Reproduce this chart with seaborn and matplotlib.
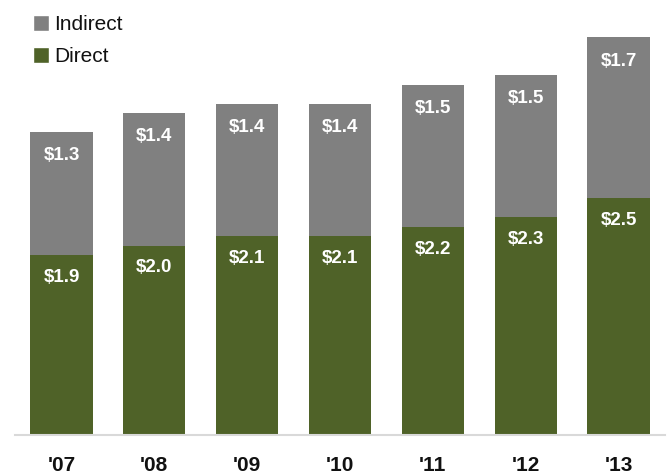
import matplotlib
matplotlib.use("Agg")
import matplotlib.pyplot as plt
import seaborn as sns
import pandas as pd
from matplotlib.patches import Patch

years = ["'07", "'08", "'09", "'10", "'11", "'12", "'13"]
direct = [1.9, 2.0, 2.1, 2.1, 2.2, 2.3, 2.5]
indirect = [1.3, 1.4, 1.4, 1.4, 1.5, 1.5, 1.7]

GREEN = "#4f6228"
GRAY = "#808080"

sns.set_theme(style="white")
plt.rcParams["font.family"] = ["Liberation Sans", "DejaVu Sans"]

df = pd.DataFrame({"year": years, "direct": direct, "indirect": indirect})
df["total"] = df["direct"] + df["indirect"]

fig = plt.figure(figsize=(6.68, 4.75), dpi=100)
ax = fig.add_axes([0.0, 0.084, 1.0, 0.857])

# stacked bars: full height in gray, direct portion over it in green
sns.barplot(data=df, x="year", y="total", color=GRAY, width=0.67,
            saturation=1, linewidth=0, ax=ax)
sns.barplot(data=df, x="year", y="direct", color=GREEN, width=0.67,
            saturation=1, linewidth=0, ax=ax)

for i, (d, ind) in enumerate(zip(direct, indirect)):
    ax.annotate(f"${ind:.1f}", xy=(i, d + ind), xytext=(0, -17),
                textcoords="offset points", ha="center", va="center",
                color="white", fontsize=13.5, fontweight="bold")
    ax.annotate(f"${d:.1f}", xy=(i, d), xytext=(0, -16),
                textcoords="offset points", ha="center", va="center",
                color="white", fontsize=13.5, fontweight="bold")

ax.set_xlim(-0.6625, 6.533)
ax.set_ylim(0, 4.3)
ax.set_xlabel("")
ax.set_ylabel("")
ax.set_yticks([])
for s in ["top", "right", "left"]:
    ax.spines[s].set_visible(False)
ax.spines["bottom"].set_color("#d9d9d9")
ax.spines["bottom"].set_linewidth(1.5)
ax.spines["bottom"].set_bounds(-0.5, 6.5)
ax.tick_params(axis="x", length=0, pad=15, labelsize=15, colors="#111111")
for lbl in ax.get_xticklabels():
    lbl.set_fontweight("bold")

handles = [Patch(facecolor=GRAY, label="Indirect"),
           Patch(facecolor=GREEN, label="Direct")]
fig.legend(handles=handles, loc="upper left", bbox_to_anchor=(0.027, 1.0),
           frameon=False, fontsize=15, handlelength=0.8, handleheight=0.8,
           handletextpad=0.25, labelspacing=0.62, borderaxespad=0.3,
           labelcolor="#111111")

fig.savefig("out.png", dpi=100)
